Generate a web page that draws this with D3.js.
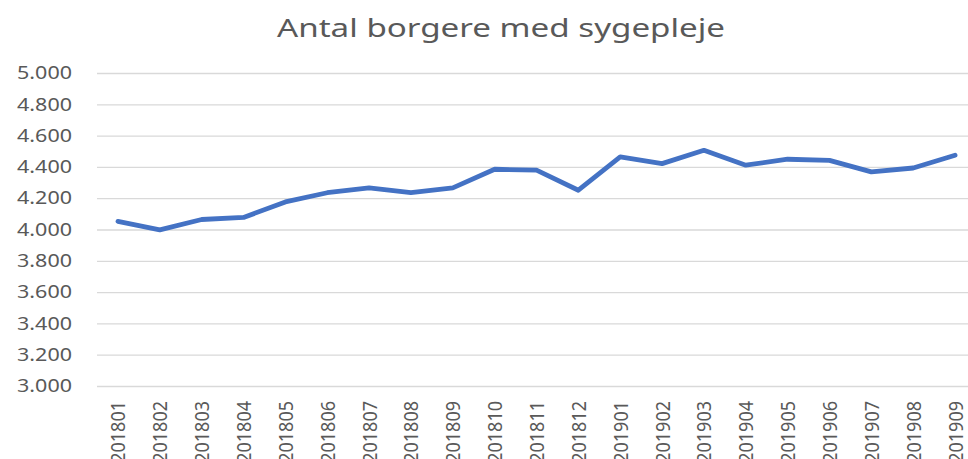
<!DOCTYPE html>
<html>
<head>
<meta charset="utf-8">
<script src="https://cdn.jsdelivr.net/npm/d3@7"></script>
<style>
  body { margin: 0; background: #fff; }
  svg { display: block; font-family: "Noto Sans", "Open Sans", sans-serif; }
</style>
</head>
<body>
<svg id="chart" width="968" height="459"></svg>
<script>
// --- Data: Antal borgere med sygepleje ---
const months = ["201801", "201802", "201803", "201804", "201805", "201806", "201807",
    "201808", "201809", "201810", "201811", "201812", "201901", "201902",
    "201903", "201904", "201905", "201906", "201907", "201908", "201909"];
const borgere = [4052, 3998, 4064, 4077, 4176, 4235, 4266, 4236, 4266, 4385, 4379,
    4251, 4464, 4421, 4506, 4411, 4449, 4442, 4368, 4393, 4474];
const yTicks = [3000, 3200, 3400, 3600, 3800, 4000, 4200, 4400, 4600, 4800, 5000];

const svg = d3.select("#chart"),
    margin = { top: 73, right: -8, bottom: 73, left: 97 },
    width = +svg.attr("width") - margin.left - margin.right,
    height = +svg.attr("height") - margin.top - margin.bottom;

const g = svg.append("g")
    .attr("transform", `translate(${margin.left},${margin.top})`);

const x = d3.scalePoint()
    .domain(months)
    .range([0, width])
    .padding(0.5);

const y = d3.scaleLinear()
    .domain([3000, 5000])
    .range([height, 0]);

const fmt = d => d3.format(",")(d).replace(",", ".");

// gridlines
g.append("g")
    .call(d3.axisLeft(y).tickValues(yTicks).tickSize(-width).tickFormat(""))
    .call(a => a.select(".domain").remove())
    .call(a => a.selectAll("line").attr("stroke", "#d9d9d9").attr("stroke-width", 1.3));

// y labels
g.append("g")
    .call(d3.axisLeft(y).tickValues(yTicks).tickSize(0).tickPadding(25).tickFormat(fmt))
    .call(a => a.select(".domain").remove())
    .call(a => a.selectAll("text")
        .attr("fill", "#595959")
        .style("font-size", "18px")
        .style("font-family", "Noto Sans")
        .attr("textLength", 55)
        .attr("lengthAdjust", "spacingAndGlyphs"));

// x labels
g.append("g")
    .attr("transform", `translate(0,${height})`)
    .call(d3.axisBottom(x).tickSize(0).tickPadding(0))
    .call(a => a.select(".domain").remove())
    .call(a => a.selectAll("text")
        .attr("fill", "#595959")
        .style("font-size", "18px")
        .style("font-family", "Noto Sans")
        .attr("text-anchor", "end")
        .attr("dy", "0.35em")
        .attr("transform", "translate(0,15) rotate(-90) scale(1,1.12)")
        .attr("x", 0)
        .attr("y", 0));

const line = d3.line()
    .x((d, i) => x(months[i]))
    .y(d => y(d));

g.append("path")
    .datum(borgere)
    .attr("fill", "none")
    .attr("stroke", "#4472c4")
    .attr("stroke-width", 4.8)
    .attr("stroke-linejoin", "round")
    .attr("stroke-linecap", "round")
    .attr("d", line);

svg.append("text")
    .attr("x", 501)
    .attr("y", 37)
    .attr("text-anchor", "middle")
    .attr("fill", "#595959")
    .style("font-size", "26px")
    .attr("textLength", 448)
    .attr("lengthAdjust", "spacingAndGlyphs")
    .text("Antal borgere med sygepleje");
</script>
</body>
</html>
